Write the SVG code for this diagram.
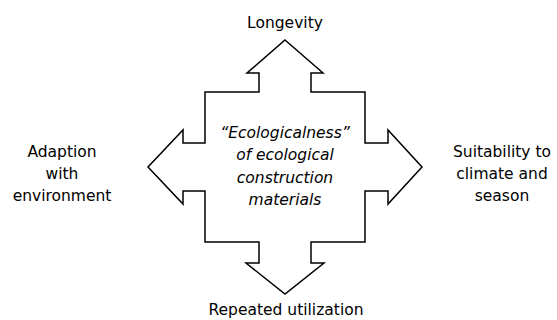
<svg xmlns="http://www.w3.org/2000/svg" width="557" height="320" viewBox="0 0 557 320">
<style>
.lbl{font-family:"DejaVu Sans","Liberation Sans",sans-serif;font-size:15.5px;fill:#000;text-anchor:middle}
.ctr{font-style:italic}
.shape{fill:#fff;stroke:#000;stroke-width:1.5;stroke-linejoin:miter}
</style>
<rect width="557" height="320" fill="#fff"/>
<g id="center-node">
<path class="shape" d="M285,40 L323,73 L311,73 L311,92 L365,92 L365,143 L388,143 L388,130 L422,167 L388,204 L388,191 L365,191 L365,242 L311,242 L311,263 L324,263 L285,294 L246,263 L259,263 L259,242 L205,242 L205,191 L183,191 L183,204 L148,167 L183,130 L183,143 L205,143 L205,92 L259,92 L259,73 L247,73 Z"/>
<text class="lbl ctr" x="285" y="138">“Ecologicalness”</text>
<text class="lbl ctr" x="285" y="160">of ecological</text>
<text class="lbl ctr" x="285" y="183">construction</text>
<text class="lbl ctr" x="285" y="205">materials</text>
</g>
<g id="longevity"><text class="lbl" x="285" y="28">Longevity</text></g>
<g id="repeated"><text class="lbl" x="286" y="315">Repeated utilization</text></g>
<g id="adaption">
<text class="lbl" x="62" y="157">Adaption</text>
<text class="lbl" x="62" y="179">with</text>
<text class="lbl" x="62" y="201">environment</text>
</g>
<g id="suitability">
<text class="lbl" x="502" y="157">Suitability to</text>
<text class="lbl" x="502" y="179">climate and</text>
<text class="lbl" x="502" y="201">season</text>
</g>
<g id="connectors"></g>
</svg>
